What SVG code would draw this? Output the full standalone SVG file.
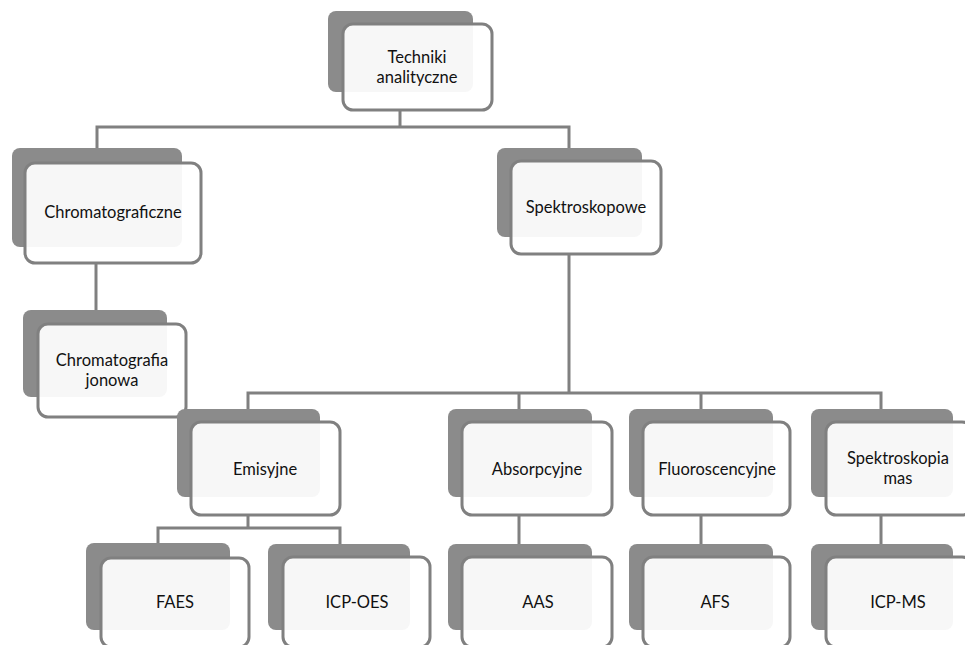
<svg xmlns="http://www.w3.org/2000/svg" width="965" height="645" viewBox="0 0 965 645">
<style>
.bk{fill:#8b8b8b}
.fr{fill:#ffffff;fill-opacity:0.93;stroke:#808080;stroke-width:3}
.t{font-family:Lato,"Open Sans","Liberation Sans",sans-serif;font-size:16.5px;fill:#111;text-anchor:middle}
.c{fill:none;stroke:#808080;stroke-width:3}
</style>
<rect width="965" height="645" fill="#ffffff"/>
<g id="connectors">
<path class="c" d="M400,110 V127 M97,148 V127 H569 V148"/>
<path class="c" d="M96,263 V310"/>
<path class="c" d="M569,254 V393 M248,409 V393 H881 V409 M519,393 V409 M701,393 V409"/>
<path class="c" d="M248,515 V528 M158,543 V528 H340 V544"/>
<path class="c" d="M519,515 V544 M701,515 V544 M881,515 V544"/>
</g>
<g id="n-techniki">
<rect class="bk" x="328" y="11" width="145" height="81" rx="8"/>
<rect class="fr" x="343" y="24" width="149" height="86" rx="10"/>
<text class="t" x="417" y="63">Techniki</text>
<text class="t" x="417" y="83">analityczne</text>
</g>
<g id="n-chromatograficzne">
<rect class="bk" x="12" y="148" width="170" height="99" rx="8"/>
<rect class="fr" x="25" y="163" width="176" height="100" rx="10"/>
<text class="t" x="113" y="218">Chromatograficzne</text>
</g>
<g id="n-spektroskopowe">
<rect class="bk" x="497" y="148" width="145" height="89" rx="8"/>
<rect class="fr" x="511" y="161" width="150" height="93" rx="10"/>
<text class="t" x="586" y="213">Spektroskopowe</text>
</g>
<g id="n-chromatografia-jonowa">
<rect class="bk" x="23" y="310" width="144" height="87" rx="8"/>
<rect class="fr" x="38" y="324" width="148" height="93" rx="10"/>
<text class="t" x="112" y="366">Chromatografia</text>
<text class="t" x="112" y="386">jonowa</text>
</g>
<g id="n-emisyjne">
<rect class="bk" x="177" y="409" width="143" height="88" rx="8"/>
<rect class="fr" x="191" y="422" width="149" height="93" rx="10"/>
<text class="t" x="265" y="475">Emisyjne</text>
</g>
<g id="n-absorpcyjne">
<rect class="bk" x="448" y="409" width="144" height="88" rx="8"/>
<rect class="fr" x="462" y="422" width="150" height="93" rx="10"/>
<text class="t" x="537" y="475">Absorpcyjne</text>
</g>
<g id="n-fluoroscencyjne">
<rect class="bk" x="629" y="409" width="144" height="88" rx="8"/>
<rect class="fr" x="643" y="422" width="147" height="93" rx="10"/>
<text class="t" x="717" y="475">Fluoroscencyjne</text>
</g>
<g id="n-spektroskopia-mas">
<rect class="bk" x="811" y="409" width="142" height="88" rx="8"/>
<rect class="fr" x="826" y="422" width="146" height="93" rx="10"/>
<text class="t" x="898" y="464">Spektroskopia</text>
<text class="t" x="898" y="484">mas</text>
</g>
<g id="n-faes">
<rect class="bk" x="86" y="543" width="144" height="87" rx="8"/>
<rect class="fr" x="101" y="558" width="148" height="89" rx="10"/>
<text class="t" x="175" y="608">FAES</text>
</g>
<g id="n-icp-oes">
<rect class="bk" x="268" y="544" width="142" height="86" rx="8"/>
<rect class="fr" x="283" y="557" width="147" height="90" rx="10"/>
<text class="t" x="357" y="608">ICP-OES</text>
</g>
<g id="n-aas">
<rect class="bk" x="448" y="544" width="144" height="86" rx="8"/>
<rect class="fr" x="462" y="557" width="150" height="90" rx="10"/>
<text class="t" x="538" y="608">AAS</text>
</g>
<g id="n-afs">
<rect class="bk" x="629" y="544" width="144" height="86" rx="8"/>
<rect class="fr" x="643" y="557" width="147" height="90" rx="10"/>
<text class="t" x="715" y="608">AFS</text>
</g>
<g id="n-icp-ms">
<rect class="bk" x="811" y="544" width="142" height="86" rx="8"/>
<rect class="fr" x="826" y="557" width="146" height="90" rx="10"/>
<text class="t" x="898" y="608">ICP-MS</text>
</g>
</svg>
